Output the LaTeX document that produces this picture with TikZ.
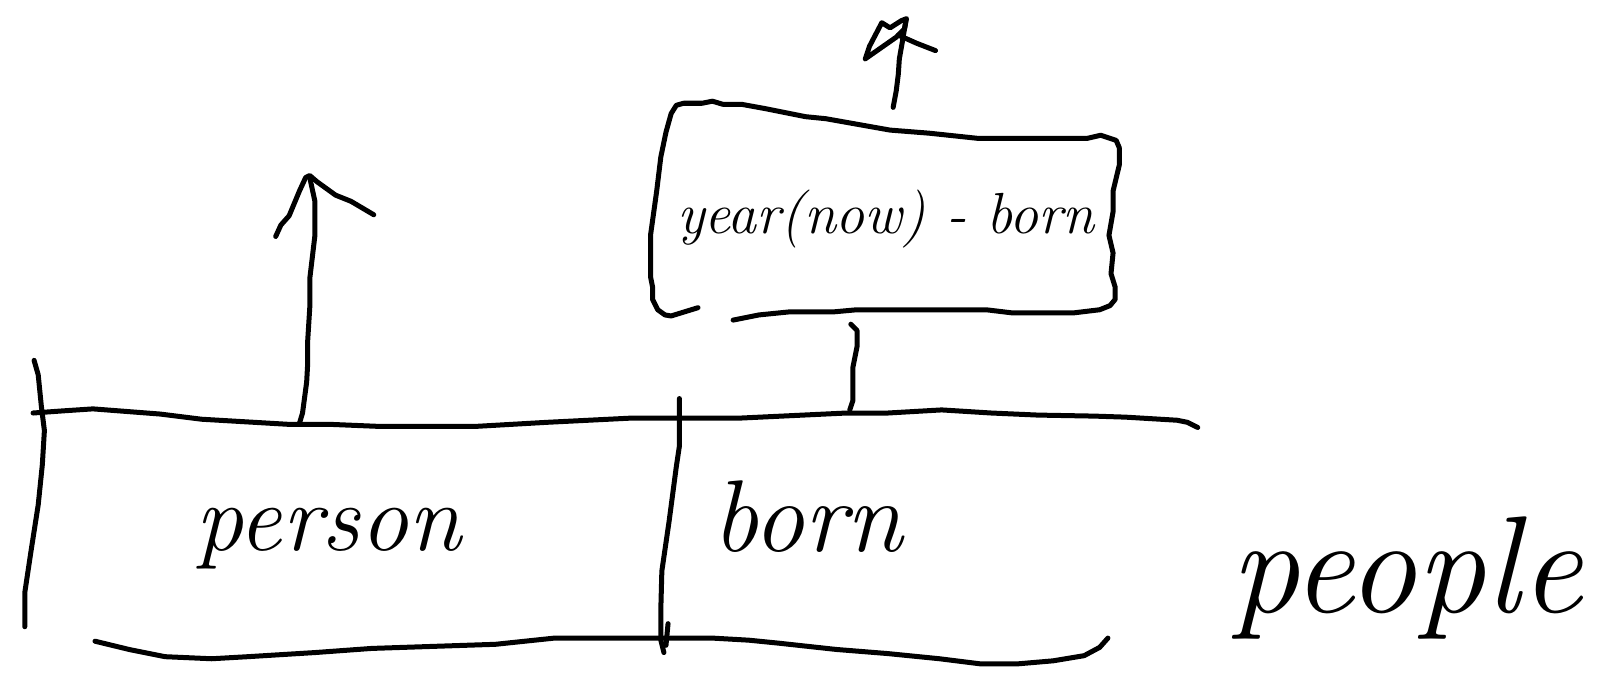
\documentclass[tikz,border=0pt]{standalone}
\begin{document}
\begin{tikzpicture}[x=1.0325pt,y=-1.0325pt,
  ink/.style={line width=5pt,line join=round,line cap=round,black},
  lbl/.style={inner sep=0pt,font=\itshape}]
\useasboundingbox (0,0) rectangle (1568,661);
% top line of table
\draw[ink] (32,400)--(60,398)--(90,396)--(155,401)--(195,406)--(280,411)--(320,411)--(368,413)--(460,413)--(530,409)--(610,405)--(715,405)--(820,400)--(860,400)--(912,397)--(960,400)--(1005,402)--(1060,403)--(1090,404)--(1140,407)--(1150,409)--(1160,414);
% left vertical
\draw[ink] (33,349)--(37,363)--(40,393)--(43,417)--(41,450)--(37,489)--(30,534)--(24,574)--(24,607);
% middle vertical
\draw[ink] (658,386)--(658,432)--(655,452)--(648,505)--(641,553)--(640,590)--(640,620)--(643,632);
\draw[ink] (647,604)--(645,625);
% bottom line
\draw[ink] (92,621)--(125,629)--(160,636)--(205,638)--(240,636)--(305,632)--(360,628)--(420,626)--(480,624)--(537,618)--(640,618)--(690,618)--(725,620)--(755,623)--(810,629)--(860,633)--(910,638)--(950,643)--(985,643)--(1020,640)--(1050,635)--(1065,627)--(1073,618);
% left arrow
\draw[ink] (290,410)--(293,400)--(297,370)--(298,352)--(298,330)--(300,298)--(300,270)--(305,228)--(305,195)--(300,172);
\draw[ink] (267,229)--(272,218)--(280,209)--(285,197)--(290,185)--(296,172)--(300,170)--(307,176)--(325,189)--(340,195)--(362,208);
% connector from table to box
\draw[ink] (823,397)--(826,388)--(826,356)--(830,336)--(830,320)--(824,314);
% box
\draw[ink] (676,298)--(650,306)--(644,305)--(637,300)--(632,290)--(632,278)--(630,268)--(630,228)--(636,185)--(640,152)--(645,128)--(650,110)--(655,102)--(662,100)--(680,100)--(690,98)--(700,101)--(718,101)--(740,105)--(780,113)--(800,115)--(862,126)--(900,129)--(947,134)--(1053,134)--(1066,131)--(1081,136)--(1084,143)--(1084,160)--(1078,185)--(1078,205)--(1074,228)--(1078,245)--(1076,265)--(1080,278)--(1080,290)--(1075,296)--(1065,300)--(1040,303)--(980,303)--(955,300)--(830,300)--(808,302)--(765,302)--(735,305)--(720,308)--(710,310);
% top arrow
\draw[ink] (865,104)--(868,88)--(870,72)--(871,57)--(874,40)--(877,22);
\draw[ink] (838,57)--(842,45)--(854,22)--(862,27)--(873,20)--(878,18)--(876,28)--(868,36)--(838,57);
\draw[ink] (870,34)--(888,42)--(906,49);
% texts
\node[lbl,font=\itshape\fontsize{58}{58}\selectfont] (expr) at (858,212) {year(now) - born};
\node[lbl,font=\itshape\fontsize{96}{96}\selectfont] (person) at (318,522) {person};
\node[lbl,font=\itshape\fontsize{102}{102}\selectfont] (born) at (782,500) {born};
\node[lbl,font=\itshape\fontsize{138}{138}\selectfont] (people) at (1362,560) {people};
\end{tikzpicture}
\end{document}
